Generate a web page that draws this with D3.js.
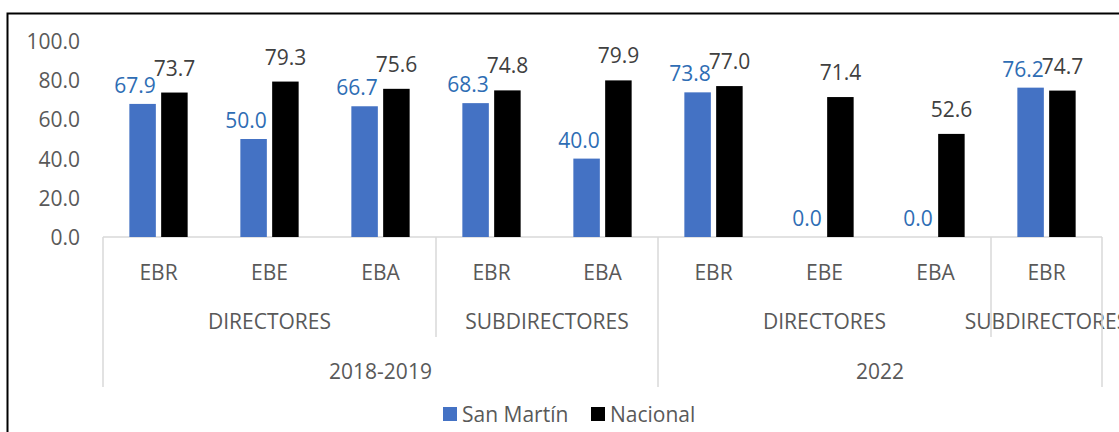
<!DOCTYPE html>
<html>
<head>
<meta charset="utf-8">
<script src="https://cdn.jsdelivr.net/npm/d3@7"></script>
<style>
  body { margin: 0; background: #fff; }
  svg { display: block; font-family: 'Open Sans', sans-serif; }
</style>
</head>
<body>
<div id="chart"></div>
<script>
// data
const categories = ['EBR', 'EBE', 'EBA', 'EBR', 'EBA', 'EBR', 'EBE', 'EBA', 'EBR']
const roles = ['DIRECTORES', 'DIRECTORES', 'DIRECTORES', 'SUBDIRECTORES', 'SUBDIRECTORES',
               'DIRECTORES', 'DIRECTORES', 'DIRECTORES', 'SUBDIRECTORES']
const years = ['2018-2019', '2018-2019', '2018-2019', '2018-2019', '2018-2019',
               '2022', '2022', '2022', '2022']
const seriesNames = ['San Martín', 'Nacional']
const sanMartin = [67.9, 50.0, 66.7, 68.3, 40.0, 73.8, 0.0, 0.0, 76.2]
const nacional = [73.7, 79.3, 75.6, 74.8, 79.9, 77.0, 71.4, 52.6, 74.7]
const yTicks = [0, 20, 40, 60, 80, 100]

const width = 1119
const height = 432
const colors = ['#4472C4', '#000000']
const labelColors = ['#2E6DB4', '#404040']
const gridColor = '#D9D9D9'
const fontSize = 21

const svg = d3.select('#chart')
    .append('svg')
    .attr('width', width)
    .attr('height', height)

// outer frame (runs off the right/bottom edge like the source)
svg.append('rect')
    .attr('x', 7.5)
    .attr('y', 13.5)
    .attr('width', 1300)
    .attr('height', 600)
    .attr('fill', 'none')
    .attr('stroke', '#000')
    .attr('stroke-width', 2)

const x0 = d3.scaleBand()
    .domain(d3.range(categories.length))
    .range([103, 1102])

const groupWidth = 58.3
const x1 = d3.scaleBand()
    .domain(seriesNames)
    .range([0, groupWidth])
    .paddingInner(0.167)

const y = d3.scaleLinear()
    .domain([0, 100])
    .range([237, 41])

// y axis labels
const yAxis = d3.axisLeft(y)
    .tickValues(yTicks)
    .tickFormat(d3.format('.1f'))
    .tickSize(0)
    .tickPadding(0)

const yg = svg.append('g')
    .attr('transform', 'translate(80,0)')
    .call(yAxis)
yg.select('.domain').remove()
yg.selectAll('text')
    .attr('font-size', fontSize)
    .attr('font-family', 'Open Sans')
    .attr('fill', '#595959')
    .attr('dy', '0.36em')

// baseline
svg.append('line')
    .attr('x1', x0.range()[0])
    .attr('x2', x0.range()[1])
    .attr('y1', y(0))
    .attr('y2', y(0))
    .attr('stroke', gridColor)
    .attr('stroke-width', 1.5)

// bars
const seriesData = [sanMartin, nacional]
seriesData.forEach((vals, s) => {
    svg.append('g')
        .selectAll('rect')
        .data(vals)
        .enter()
        .append('rect')
        .attr('x', (d, i) => x0(i) + (x0.bandwidth() - groupWidth) / 2 + x1(seriesNames[s]))
        .attr('y', d => y(d))
        .attr('width', x1.bandwidth())
        .attr('height', d => y(0) - y(d))
        .attr('fill', colors[s])
})

// data labels
const labelGap = [11, 17]
seriesData.forEach((vals, s) => {
    svg.append('g')
        .selectAll('text')
        .data(vals)
        .enter()
        .append('text')
        .attr('x', (d, i) => {
            const left = x0(i) + (x0.bandwidth() - groupWidth) / 2 + x1(seriesNames[s])
            return s === 0 ? left + x1.bandwidth() : left + x1.bandwidth() / 2
        })
        .attr('y', d => y(d) - labelGap[s])
        .attr('text-anchor', s === 0 ? 'end' : 'middle')
        .attr('font-size', fontSize)
        .attr('fill', labelColors[s])
        .text(d => d3.format('.1f')(d))
})

// category labels
svg.append('g')
    .selectAll('text')
    .data(categories)
    .enter()
    .append('text')
    .attr('x', (d, i) => x0(i) + x0.bandwidth() / 2)
    .attr('y', 279.5)
    .attr('text-anchor', 'middle')
    .attr('font-size', fontSize)
    .attr('fill', '#595959')
    .text(d => d)

// runs of equal labels -> groups
function runs(keys, labels) {
    const out = []
    keys.forEach((k, i) => {
        const last = out[out.length - 1]
        if (last && last.key === k) last.end = i
        else out.push({ key: k, label: labels[i], start: i, end: i })
    })
    return out
}

const roleRuns = runs(roles.map((r, i) => years[i] + '|' + r), roles)
const yearRuns = runs(years, years)

svg.append('g')
    .selectAll('text')
    .data(roleRuns)
    .enter()
    .append('text')
    .attr('x', d => (x0(d.start) + x0(d.end) + x0.bandwidth()) / 2)
    .attr('y', 328.5)
    .attr('text-anchor', 'middle')
    .attr('font-size', fontSize)
    .attr('fill', '#595959')
    .text(d => d.label)

svg.append('g')
    .selectAll('text')
    .data(yearRuns)
    .enter()
    .append('text')
    .attr('x', d => (x0(d.start) + x0(d.end) + x0.bandwidth()) / 2)
    .attr('y', 378.5)
    .attr('text-anchor', 'middle')
    .attr('font-size', fontSize)
    .attr('fill', '#595959')
    .text(d => d.label)

// separators
const roleBounds = roleRuns.map(d => d.start)
const yearBounds = yearRuns.map(d => d.start)
const sepLines = []
roleBounds.forEach(b => {
    if (!yearBounds.includes(b)) sepLines.push({ x: x0(b), y2: 337 })
})
yearBounds.forEach(b => sepLines.push({ x: x0(b), y2: 387 }))
sepLines.push({ x: x0.range()[1], y2: 387 })

svg.append('g')
    .selectAll('line')
    .data(sepLines)
    .enter()
    .append('line')
    .attr('x1', d => d.x)
    .attr('x2', d => d.x)
    .attr('y1', y(0))
    .attr('y2', d => d.y2)
    .attr('stroke', gridColor)
    .attr('stroke-width', 1.5)

// legend
const legend = svg.append('g').attr('id', 'legend')
const legendX = [443, 591]
seriesNames.forEach((name, s) => {
    legend.append('rect')
        .attr('x', legendX[s])
        .attr('y', 407)
        .attr('width', 14)
        .attr('height', 14)
        .attr('fill', colors[s])
    legend.append('text')
        .attr('x', legendX[s] + 19)
        .attr('y', 421.5)
        .attr('font-size', fontSize)
        .attr('fill', '#595959')
        .text(name)
})
</script>
</body>
</html>
